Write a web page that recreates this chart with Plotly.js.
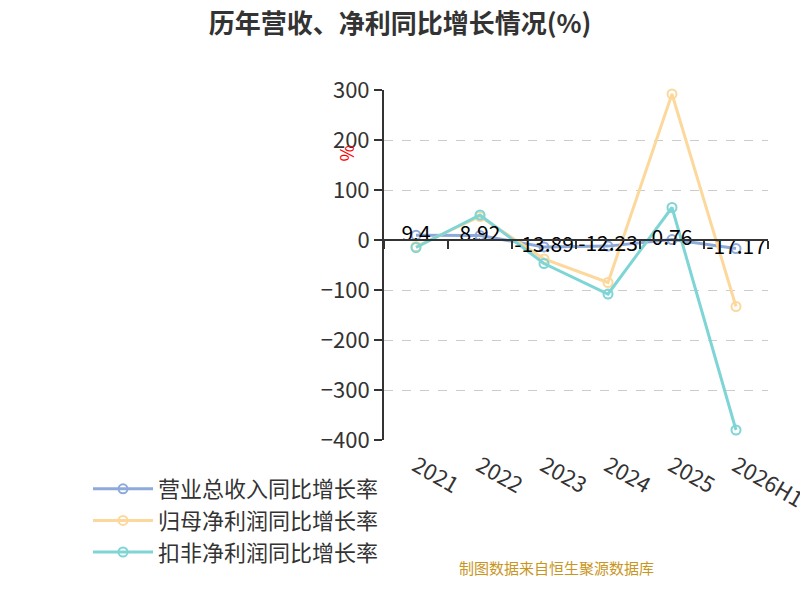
<!DOCTYPE html><html><head><meta charset="utf-8"><script src="https://cdn.plot.ly/plotly-3.0.1.min.js"></script></head><body style="margin:0"><div id="c" style="width:800px;height:600px"></div><script>
const years=['2021','2022','2023','2024','2025','2026H1'];
const revenue=[9.4,8.92,-13.89,-12.23,0.76,-17.17];
const netProfit=[-13,47,-38,-85,292,-133];
const deducted=[-15,50,-47,-108,65,-380];
const revLabels=['9.4','8.92','-13.89','-12.23','0.76','-17.17'];
const f="'Noto Sans CJK SC', 'Noto Sans', sans-serif";
function tr(name,y,color,rank,extra){return Object.assign({type:'scatter',mode:'lines+markers',x:years,y:y,name:name,legendrank:rank,line:{color:color,width:3},marker:{symbol:'circle-open',size:9,color:color,line:{width:2}},cliponaxis:false},extra||{});}
const data=[
{type:'scatter',x:years,y:revenue,xaxis:'x2',mode:'none',showlegend:false,hoverinfo:'skip'},
tr('营业总收入同比增长率',revenue,'#8eaadb',1),
tr('归母净利润同比增长率',netProfit,'#fdd89c',2),
tr('扣非净利润同比增长率',deducted,'#7fd5d5',3),
{type:'scatter',mode:'text',x:years,y:revenue,text:revLabels,textposition:'middle center',textfont:{size:21,color:'#000',family:f},showlegend:false,hoverinfo:'skip',cliponaxis:false}
];
const layout={width:800,height:600,margin:{l:150,r:32,t:90,b:160},paper_bgcolor:'#fff',plot_bgcolor:'#fff',font:{family:f,color:'#333'},
title:{text:'<b>历年营收、净利同比增长情况(%)</b>',x:0.5,y:0.96,yanchor:'middle',font:{size:26,color:'#333'}},
xaxis:{type:'category',categoryorder:'array',categoryarray:years,range:[-0.5,5.5],showline:false,ticks:'',showgrid:false,zeroline:false,tickfont:{size:22,color:'#333'},ticklabelstandoff:8},
xaxis2:{type:'category',categoryorder:'array',categoryarray:years,range:[-0.5,5.5],overlaying:'x',anchor:'free',position:400/700,showline:true,linecolor:'#333',linewidth:2,ticks:'outside',ticklen:8,tickwidth:2,tickcolor:'#333',tickson:'boundaries',showticklabels:false,showgrid:false},
yaxis:{range:[-400,300],dtick:100,showline:true,linecolor:'#333',linewidth:2,ticks:'outside',ticklen:8,tickwidth:2,tickcolor:'#333',gridcolor:'#ccc',griddash:'dash',zeroline:false,tickfont:{size:22,color:'#333'}},
legend:{orientation:'h',xref:'container',x:0.11,xanchor:'left',y:-0.08,yanchor:'top',font:{size:22,color:'#333'},itemwidth:60,tracegroupgap:0,traceorder:'normal'},
annotations:[{text:'%',textangle:-90,x:-0.1,xref:'paper',y:0.85,yref:'paper',showarrow:false,font:{size:18,color:'red'},xanchor:'center'},
{text:'制图数据来自恒生聚源数据库',xref:'paper',yref:'paper',x:0.45,y:-0.4,showarrow:false,font:{size:15,color:'#c8961e'}}]};
Plotly.newPlot('c',data,layout,{displayModeBar:false});
</script></body></html>
